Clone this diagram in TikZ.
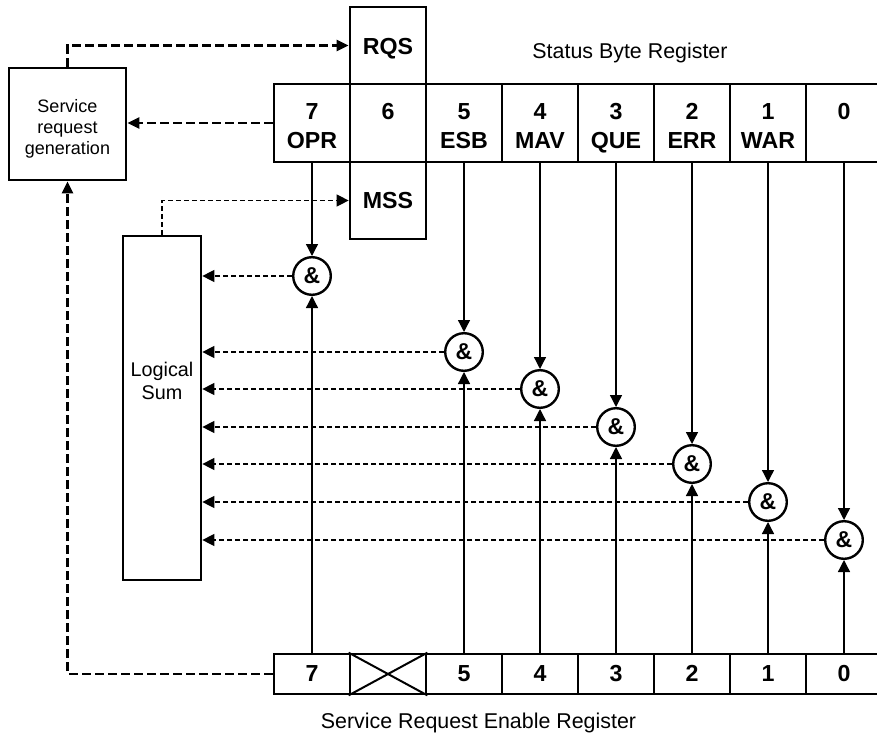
\documentclass[tikz,border=0pt]{standalone}
\usepackage{fontspec}
\setmainfont{Liberation Sans}
\usetikzlibrary{arrows.meta,calc}
\newcommand\bitfont{\fontsize{11.6}{14}\selectfont\bfseries}
\newcommand\ampfont{\fontsize{11.5}{12}\selectfont\bfseries}
\newcommand\titlefont{\fontsize{10.7}{13}\selectfont}
\begin{document}
\begin{tikzpicture}[x=0.5pt,y=-0.5pt,
  box/.style={draw,line width=1.35pt,inner sep=0pt},
  cell/.style={box,minimum width=38pt,minimum height=39pt},
  lowcell/.style={box,minimum width=38pt,minimum height=20pt},
  txt/.style={inner sep=0pt},
  bittxt/.style={txt,font=\bitfont,anchor=base},
  gate/.style={circle,draw,line width=1.2pt,minimum size=18.8pt,inner sep=0pt,font=\ampfont},
  sig/.style={line width=0.65pt,-{Triangle[length=6pt,width=6pt]}},
  thinflow/.style={line width=0.6pt,dash pattern=on 2.5pt off 1.5pt,-{Triangle[length=6pt,width=6pt]}},
  thickflow/.style={line width=1.2pt,dash pattern=on 4.5pt off 2pt,-{Triangle[length=6pt,width=5.5pt]}}
]
\useasboundingbox (0,0) rectangle (877,738);

% Status byte register
\foreach \i/\x in {7/312,6/388,5/464,4/540,3/616,2/692,1/768,0/844}{
  \node[cell] (b\i) at (\x,123) {};
  \node[bittxt] (bn\i) at (\x,119.3) {\i};
}
\foreach \i/\x/\nm in {7/312/OPR,5/464/ESB,4/540/MAV,3/616/QUE,2/692/ERR,1/768/WAR}{
  \node[bittxt] (bm\i) at (\x,148.3) {\nm};
}
\node[box,minimum width=38pt,minimum height=38.5pt] (rqs) at (388,45.5) {};
\node[bittxt] (rqstext) at (388,54.5) {RQS};
\node[box,minimum width=38pt,minimum height=38.5pt] (mss) at (388,200.5) {};
\node[bittxt] (msstext) at (388,208.5) {MSS};
\node[txt,font=\titlefont] (sbrtitle) at (630,53) {Status Byte Register};

% Service request generation
\node[box,minimum width=58.5pt,minimum height=56pt] (srg) at (67.5,124) {};
\node[txt,font=\fontsize{9}{10.5}\selectfont,align=center] (srgtext) at (67.5,129) {Service\\request\\generation};

% Logical sum
\node[box,minimum width=39pt,minimum height=172pt] (ls) at (162,408) {};
\node[txt,font=\fontsize{9.9}{11.5}\selectfont,align=center] (lstext) at (162,381) {Logical\\Sum};

% Service request enable register
\foreach \i/\x in {7/312,6/388,5/464,4/540,3/616,2/692,1/768,0/844}{
  \node[lowcell] (s\i) at (\x,674) {};
}
\foreach \i/\x in {7/312,5/464,4/540,3/616,2/692,1/768,0/844}{
  \node[bittxt] (sn\i) at (\x,681.5) {\i};
}
\draw[line width=1pt] (s6.north west) -- (s6.south east) (s6.south west) -- (s6.north east);
\node[txt,font=\titlefont] (srertitle) at (478.5,723) {Service Request Enable Register};

% AND gates
\foreach \i/\x/\y in {7/312/276,5/464/352,4/540/389,3/616/427,2/692/464,1/768/502,0/844/540}{
  \node[gate] (c\i) at (\x,\y) {\&};
  \draw[sig] (b\i.south) -- (c\i.north);
  \draw[sig] (s\i.north) -- (c\i.south);
  \draw[thinflow] (c\i.west) -- (c\i.west -| ls.east);
}

% Flows
\draw[thickflow] (b7.west) -- (b7.west -| srg.east);
\draw[thickflow] (srg.north) |- (rqs.west);
\draw[thickflow] (s7.west) -| (srg.south);
\draw[thinflow] (ls.north) |- (mss.west);
\end{tikzpicture}
\end{document}
